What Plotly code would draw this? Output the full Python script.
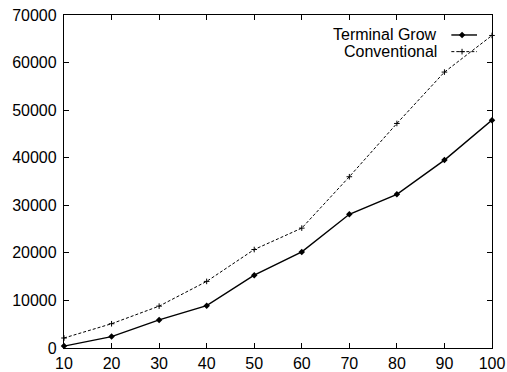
import plotly.graph_objects as go

x_vals = [10, 20, 30, 40, 50, 60, 70, 80, 90, 100]
terminal_grow = [400, 2400, 5900, 8900, 15300, 20200, 28100, 32300, 39500, 47900]
conventional = [2100, 5100, 8800, 14000, 20700, 25200, 36000, 47200, 58000, 65700]
x_ticks = [10, 20, 30, 40, 50, 60, 70, 80, 90, 100]
y_ticks = [0, 10000, 20000, 30000, 40000, 50000, 60000, 70000]
series_names = ["Terminal Grow", "Conventional"]

FONT = "Liberation Sans, Arial, Helvetica, sans-serif"

fig = go.Figure()
fig.add_trace(go.Scatter(
    x=x_vals, y=terminal_grow, mode="lines+markers", name=series_names[0],
    line=dict(color="black", width=1.4),
    marker=dict(symbol="diamond", size=5, color="black"),
    showlegend=False, cliponaxis=False))
fig.add_trace(go.Scatter(
    x=x_vals, y=conventional, mode="lines+markers", name=series_names[1],
    line=dict(color="black", width=1, dash="3px,2px"),
    marker=dict(symbol="cross-thin", size=4, color="black", line=dict(color="black", width=1)),
    showlegend=False, cliponaxis=False))

# gnuplot-style key: text at left, sample at right (drawn on a hidden 0..1 axis)
fig.add_trace(go.Scatter(x=[0.905, 0.935, 0.965], y=[0.94, 0.94, 0.94], xaxis="x2", yaxis="y2",
                         mode="lines", line=dict(color="black", width=1.4), showlegend=False, hoverinfo="skip"))
fig.add_trace(go.Scatter(x=[0.93], y=[0.94], xaxis="x2", yaxis="y2", mode="markers",
                         marker=dict(symbol="diamond", size=5, color="black"), showlegend=False, hoverinfo="skip"))
fig.add_trace(go.Scatter(x=[0.905, 0.965], y=[0.89, 0.89], xaxis="x2", yaxis="y2",
                         mode="lines", line=dict(color="black", width=1, dash="3px,2px"), showlegend=False, hoverinfo="skip"))
fig.add_trace(go.Scatter(x=[0.93], y=[0.89], xaxis="x2", yaxis="y2", mode="markers",
                         marker=dict(symbol="cross-thin", size=4, color="black", line=dict(color="black", width=1)),
                         showlegend=False, hoverinfo="skip"))
fig.add_annotation(x=0.875, y=0.94, xref="x2", yref="y2", text=series_names[0], showarrow=False,
                   xanchor="right", yanchor="middle", font=dict(family=FONT, size=16, color="black"))
fig.add_annotation(x=0.875, y=0.89, xref="x2", yref="y2", text=series_names[1], showarrow=False,
                   xanchor="right", yanchor="middle", font=dict(family=FONT, size=16, color="black"))

axis_common = dict(showgrid=False, zeroline=False, showline=True, linecolor="black", linewidth=1.3,
                   mirror="ticks", ticks="inside", ticklen=5, tickwidth=1, tickcolor="black",
                   automargin=False,
                   tickfont=dict(family=FONT, size=16, color="black"))
fig.update_layout(
    width=507, height=372,
    margin=dict(l=64, r=15, t=15, b=24),
    paper_bgcolor="white", plot_bgcolor="white",
    xaxis=dict(range=[10, 100], tickvals=x_ticks, ticktext=[str(v) for v in x_ticks],
               ticklabelstandoff=1, **axis_common),
    yaxis=dict(range=[0, 70000], tickvals=y_ticks, ticktext=[str(v) for v in y_ticks],
               ticklabelstandoff=3, **axis_common),
    xaxis2=dict(range=[0, 1], overlaying="x", visible=False, anchor="y2"),
    yaxis2=dict(range=[0, 1], overlaying="y", visible=False, anchor="x2"),
    showlegend=False,
)
fig.write_html("out.html", config={"displayModeBar": False},
               post_script="document.body.style.margin='0px';document.body.style.overflow='hidden';")
